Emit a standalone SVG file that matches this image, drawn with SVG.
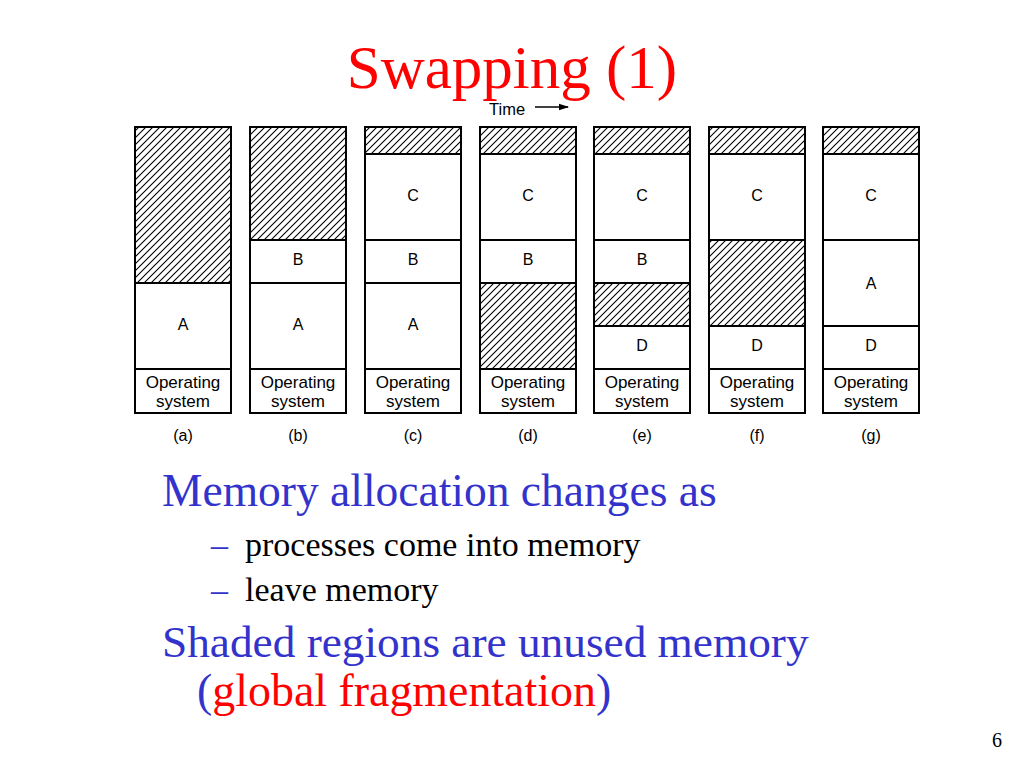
<svg xmlns="http://www.w3.org/2000/svg" width="1024" height="768" viewBox="0 0 1024 768">
<defs>
<pattern id="hatch" patternUnits="userSpaceOnUse" width="7" height="7">
<path d="M-1,1 L1,-1 M0,7 L7,0 M6,8 L8,6" stroke="#000" stroke-width="1.1"/>
</pattern>
<marker id="arr" markerWidth="10" markerHeight="8" refX="9" refY="4" orient="auto" markerUnits="userSpaceOnUse">
<path d="M0,0.8 L10,4 L0,7.2 Z" fill="#000"/>
</marker>
<style>
.seg{fill:#fff;stroke:#000;stroke-width:2}
.h{fill:url(#hatch);stroke:#000;stroke-width:2}
.lb{font-family:"Liberation Sans",Arial,sans-serif;font-size:16px;text-anchor:middle;fill:#000}
.os{font-family:"Liberation Sans",Arial,sans-serif;font-size:17px;text-anchor:middle;fill:#000}
.ser{font-family:"Liberation Serif","Times New Roman",serif}
</style>
</defs>
<rect width="1024" height="768" fill="#fff"/>
<text class="ser" x="512" y="88" font-size="61" fill="#f00" text-anchor="middle">Swapping (1)</text>
<g id="time">
<text x="489" y="115" font-family="Liberation Sans,Arial,sans-serif" font-size="16.5">Time</text>
<line x1="535" y1="107" x2="568" y2="107" stroke="#000" stroke-width="1.5" marker-end="url(#arr)"/>
</g>
<g id="col-a">
<rect class="h" x="135" y="127" width="96" height="156"/>
<rect class="seg" x="135" y="283" width="96" height="86"/>
<rect class="seg" x="135" y="369" width="96" height="44"/>
<text class="lb" x="183" y="330">A</text>
<text class="os" x="183" y="388">Operating</text><text class="os" x="183" y="407">system</text>
<text class="lb" x="183" y="441">(a)</text>
</g>
<g id="col-b">
<rect class="h" x="250" y="127" width="96" height="113"/>
<rect class="seg" x="250" y="240" width="96" height="43"/>
<rect class="seg" x="250" y="283" width="96" height="86"/>
<rect class="seg" x="250" y="369" width="96" height="44"/>
<text class="lb" x="298" y="265">B</text>
<text class="lb" x="298" y="330">A</text>
<text class="os" x="298" y="388">Operating</text><text class="os" x="298" y="407">system</text>
<text class="lb" x="298" y="441">(b)</text>
</g>
<g id="col-c">
<rect class="h" x="365" y="127" width="96" height="27"/>
<rect class="seg" x="365" y="154" width="96" height="86"/>
<rect class="seg" x="365" y="240" width="96" height="43"/>
<rect class="seg" x="365" y="283" width="96" height="86"/>
<rect class="seg" x="365" y="369" width="96" height="44"/>
<text class="lb" x="413" y="201">C</text>
<text class="lb" x="413" y="265">B</text>
<text class="lb" x="413" y="330">A</text>
<text class="os" x="413" y="388">Operating</text><text class="os" x="413" y="407">system</text>
<text class="lb" x="413" y="441">(c)</text>
</g>
<g id="col-d">
<rect class="h" x="480" y="127" width="96" height="27"/>
<rect class="seg" x="480" y="154" width="96" height="86"/>
<rect class="seg" x="480" y="240" width="96" height="43"/>
<rect class="h" x="480" y="283" width="96" height="86"/>
<rect class="seg" x="480" y="369" width="96" height="44"/>
<text class="lb" x="528" y="201">C</text>
<text class="lb" x="528" y="265">B</text>
<text class="os" x="528" y="388">Operating</text><text class="os" x="528" y="407">system</text>
<text class="lb" x="528" y="441">(d)</text>
</g>
<g id="col-e">
<rect class="h" x="594" y="127" width="96" height="27"/>
<rect class="seg" x="594" y="154" width="96" height="86"/>
<rect class="seg" x="594" y="240" width="96" height="43"/>
<rect class="h" x="594" y="283" width="96" height="43"/>
<rect class="seg" x="594" y="326" width="96" height="43"/>
<rect class="seg" x="594" y="369" width="96" height="44"/>
<text class="lb" x="642" y="201">C</text>
<text class="lb" x="642" y="265">B</text>
<text class="lb" x="642" y="351">D</text>
<text class="os" x="642" y="388">Operating</text><text class="os" x="642" y="407">system</text>
<text class="lb" x="642" y="441">(e)</text>
</g>
<g id="col-f">
<rect class="h" x="709" y="127" width="96" height="27"/>
<rect class="seg" x="709" y="154" width="96" height="86"/>
<rect class="h" x="709" y="240" width="96" height="86"/>
<rect class="seg" x="709" y="326" width="96" height="43"/>
<rect class="seg" x="709" y="369" width="96" height="44"/>
<text class="lb" x="757" y="201">C</text>
<text class="lb" x="757" y="351">D</text>
<text class="os" x="757" y="388">Operating</text><text class="os" x="757" y="407">system</text>
<text class="lb" x="757" y="441">(f)</text>
</g>
<g id="col-g">
<rect class="h" x="823" y="127" width="96" height="27"/>
<rect class="seg" x="823" y="154" width="96" height="86"/>
<rect class="seg" x="823" y="240" width="96" height="86"/>
<rect class="seg" x="823" y="326" width="96" height="43"/>
<rect class="seg" x="823" y="369" width="96" height="44"/>
<text class="lb" x="871" y="201">C</text>
<text class="lb" x="871" y="289">A</text>
<text class="lb" x="871" y="351">D</text>
<text class="os" x="871" y="388">Operating</text><text class="os" x="871" y="407">system</text>
<text class="lb" x="871" y="441">(g)</text>
</g>
<g id="connectors"></g>
<g id="bullets" class="ser">
<text x="162" y="506" font-size="45.5" fill="#3333cc">Memory allocation changes as</text>
<text x="211" y="556" font-size="34" fill="#3333cc">–</text>
<text x="245" y="556" font-size="34" fill="#000">processes come into memory</text>
<text x="211" y="601" font-size="34" fill="#3333cc">–</text>
<text x="245" y="601" font-size="34" fill="#000">leave memory</text>
<text x="162" y="657" font-size="45.3" fill="#3333cc">Shaded regions are unused memory</text>
<text x="197" y="706" font-size="45.9" fill="#3333cc">(<tspan fill="#f00">global fragmentation</tspan>)</text>
<text x="992" y="747" font-size="20" fill="#000">6</text>
</g>
</svg>
